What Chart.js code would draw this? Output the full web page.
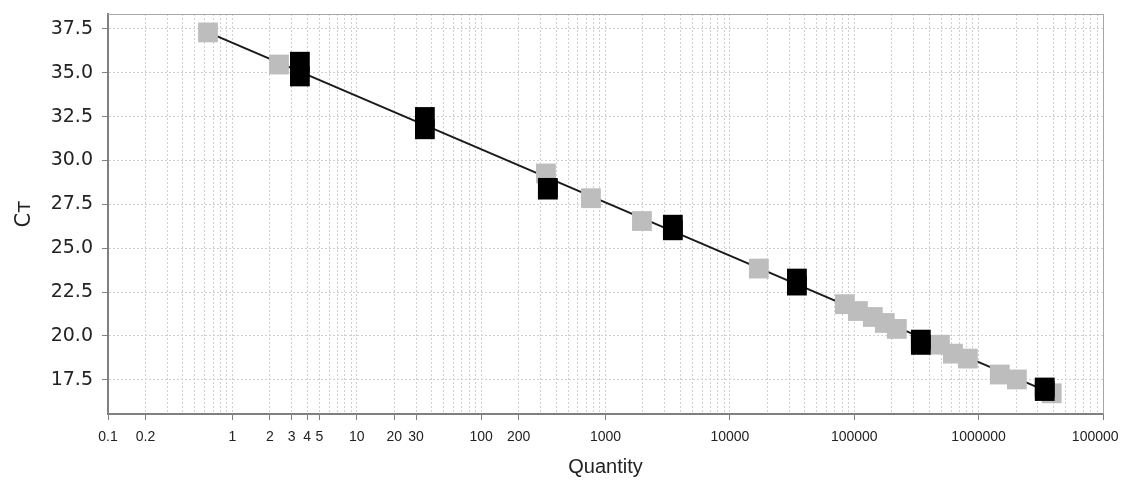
<!DOCTYPE html>
<html><head><meta charset="utf-8">
<script src="https://cdn.jsdelivr.net/npm/chart.js@4/dist/chart.umd.min.js"></script>
<style>html,body{margin:0;padding:0;background:#fff;}</style>
</head><body>
<canvas id="c" width="1122" height="486"></canvas>
<script>
// Standards (grey squares)
const standardQty = [0.637, 2.37, 332, 764, 1963, 17100, 84000, 107000, 141000, 176000, 220000, 488000, 621000, 819000, 1480000, 2030000, 3870000];
const standardCt  = [37.30, 35.47, 29.26, 27.85, 26.55, 23.84, 21.81, 21.42, 21.08, 20.74, 20.40, 19.50, 18.99, 18.71, 17.80, 17.52, 16.73];
// Unknowns (black squares, replicate pairs)
const unknownQty = [3.49, 3.49, 35.3, 35.3, 344, 344, 3480, 3480, 34600, 34600, 343000, 343000, 3400000, 3400000];
const unknownCt  = [35.63, 34.79, 32.48, 31.78, 28.44, 28.34, 26.34, 26.02, 23.27, 22.87, 19.79, 19.49, 17.06, 16.86];
// Standard curve end points
const fitQty = [0.637, 3870000];
const fitCt  = [37.30, 16.73];
// Axis ticks
const xTickValues = [0.1, 0.2, 1, 2, 3, 4, 5, 10, 20, 30, 100, 200, 1000, 10000, 100000, 1000000, 10000000];
const xTickLabels = ['0.1', '0.2', '1', '2', '3', '4', '5', '10', '20', '30', '100', '200', '1000', '10000', '100000', '1000000', '100000    '];
const yTickValues = [17.5, 20, 22.5, 25, 27.5, 30, 32.5, 35, 37.5];

const toPts = (xs, ys) => xs.map((x, i) => ({x: x, y: ys[i]}));
function labelFor(v) {
  for (let i = 0; i < xTickValues.length; i++) {
    if (Math.abs(Math.log10(v) - Math.log10(xTickValues[i])) < 1e-6) return xTickLabels[i];
  }
  return '';
}

const frame = {
  id: 'frame',
  afterDraw(chart) {
    const a = chart.chartArea, ctx = chart.ctx;
    ctx.save();
    ctx.strokeStyle = '#a8a8a8';
    ctx.lineWidth = 1;
    ctx.beginPath();
    ctx.moveTo(a.left, a.top + 0.5); ctx.lineTo(a.right + 0.5, a.top + 0.5); ctx.lineTo(a.right + 0.5, a.bottom);
    ctx.stroke();
    ctx.restore();
  }
};

new Chart(document.getElementById('c'), {
  type: 'scatter',
  data: {
    datasets: [
      {label: 'Unknown', data: toPts(unknownQty, unknownCt), pointStyle: 'rect', pointRadius: 14, pointHoverRadius: 14,
       backgroundColor: '#000000', borderColor: '#000000', borderWidth: 0},
      {label: 'Standard', data: toPts(standardQty, standardCt), pointStyle: 'rect', pointRadius: 14, pointHoverRadius: 14,
       backgroundColor: '#bdbdbd', borderColor: '#bdbdbd', borderWidth: 0},
      {label: 'Fit', data: toPts(fitQty, fitCt), showLine: true, pointRadius: 0, borderColor: '#1a1a1a', borderWidth: 2, fill: false}
    ]
  },
  options: {
    responsive: false,
    animation: false,
    devicePixelRatio: 1,
    layout: {padding: {top: 11, right: 19, left: 0, bottom: 0}},
    plugins: {legend: {display: false}, tooltip: {enabled: false}},
    scales: {
      x: {
        type: 'logarithmic', min: 0.1, max: 10000000,
        afterBuildTicks(scale) {
          const t = [];
          for (let e = -1; e < 7; e++) {
            for (let m = 1; m <= 9; m++) t.push({value: m * Math.pow(10, e)});
          }
          t.push({value: 10000000});
          scale.ticks = t;
        },
        afterFit(scale) { scale.height = 72; scale.paddingLeft = 0; scale.paddingRight = 0; },
        ticks: {
          autoSkip: false, maxRotation: 0, minRotation: 0, padding: 9,
          color: '#222', font: {family: 'Liberation Sans', size: 14},
          callback: (v) => labelFor(v)
        },
        grid: {
          color: '#d0d0d0', lineWidth: 1, tickLength: 6, tickBorderDash: [],
          tickColor: (ctx) => (ctx.tick && labelFor(ctx.tick.value) !== '') ? '#808080' : 'rgba(0,0,0,0)'
        },
        border: {display: true, color: '#808080', width: 2, dash: [2, 2]},
        title: {display: true, text: 'Quantity', color: '#222', font: {family: 'Liberation Sans', size: 20}, padding: {top: 0, bottom: 7}}
      },
      y: {
        type: 'linear', min: 15.55, max: 38.35,
        afterBuildTicks(scale) { scale.ticks = yTickValues.map(v => ({value: v})); },
        afterFit(scale) { scale.width = 108; scale.paddingTop = 0; scale.paddingBottom = 0; },
        ticks: {
          padding: 9, color: '#222', font: {family: 'DejaVu Sans', size: 19},
          callback: (v) => Number(v).toFixed(1)
        },
        grid: {color: '#d0d0d0', lineWidth: 1, tickLength: 6, tickBorderDash: [], tickColor: '#808080'},
        border: {display: true, color: '#808080', width: 2, dash: [2, 2]},
        title: {display: true, text: 'C\u1D1B', color: '#222', font: {family: "'DejaVu Sans', 'Liberation Sans'", size: 21}, padding: {top: 12, bottom: 0}}
      }
    }
  },
  plugins: [frame]
});
</script>
</body></html>
